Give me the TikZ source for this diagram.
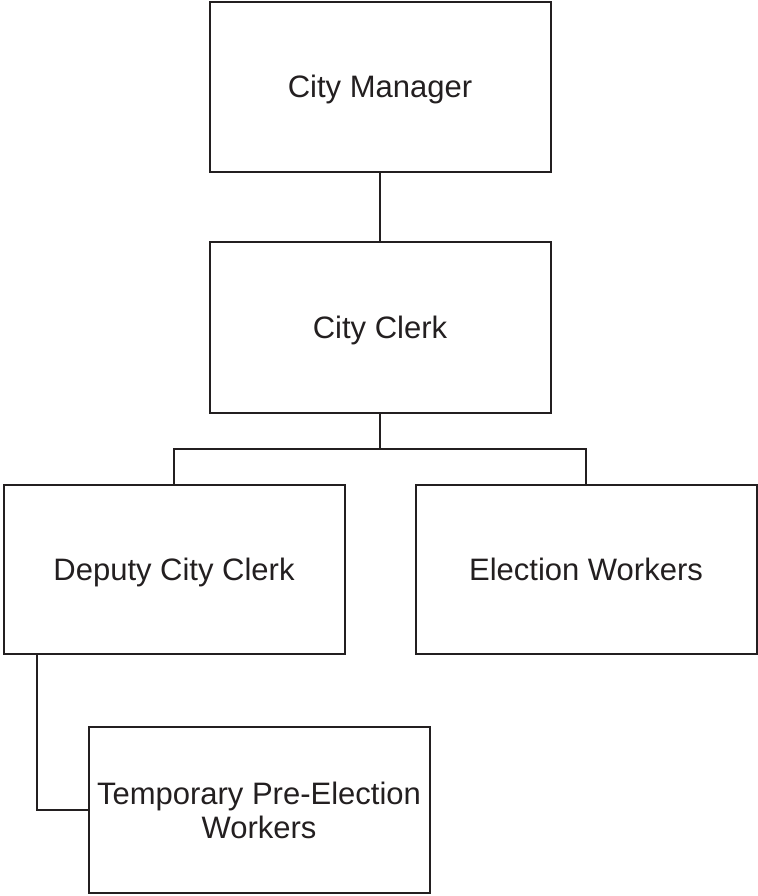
\documentclass[tikz,border=0pt]{standalone}
\usepackage{fontspec}
\setmainfont{Liberation Sans}
\usepackage{tikz}
\definecolor{ink}{HTML}{231F20}
\tikzset{office/.style={draw=ink, line width=2pt, text=ink, minimum width=341pt, align=center, inner sep=0pt, font=\fontsize{31}{34}\selectfont},
         oneline/.style={text height=22pt, text depth=0pt}}

\begin{document}
\begin{tikzpicture}[x=1pt,y=1pt,line width=2pt]
    \useasboundingbox (0,0) rectangle (757,-896);

    \coordinate (M) at (380, -87);
    \coordinate (C) at (380, -327.5);
    \coordinate (D) at (174, -569.5);
    \coordinate (E) at (586, -569.5);
    \coordinate (T) at (259, -810);

    \coordinate (bus) at (380, -449);
    \coordinate (tap) at (37, 0);

    \node [office, oneline, minimum height=170pt] (cm) at (M) {City Manager};
    \node [office, oneline, minimum height=171pt] (cc) at (C) {City Clerk};
    \node [office, oneline, minimum height=169pt] (dcc) at (D) {Deputy City Clerk};
    \node [office, oneline, minimum height=169pt] (ew) at (E) {Election Workers};
    \node [office, minimum height=166pt] (tpw) at (T) {Temporary Pre-Election\\Workers};

    \draw[ink] (cm) -- (cc);
    \draw[ink] (cc) -- (bus);
    \draw[ink] (dcc.north) |- (bus) -| (ew.north);
    \draw[ink] (dcc.south -| tap) |- (tpw.west);
\end{tikzpicture}
\end{document}
